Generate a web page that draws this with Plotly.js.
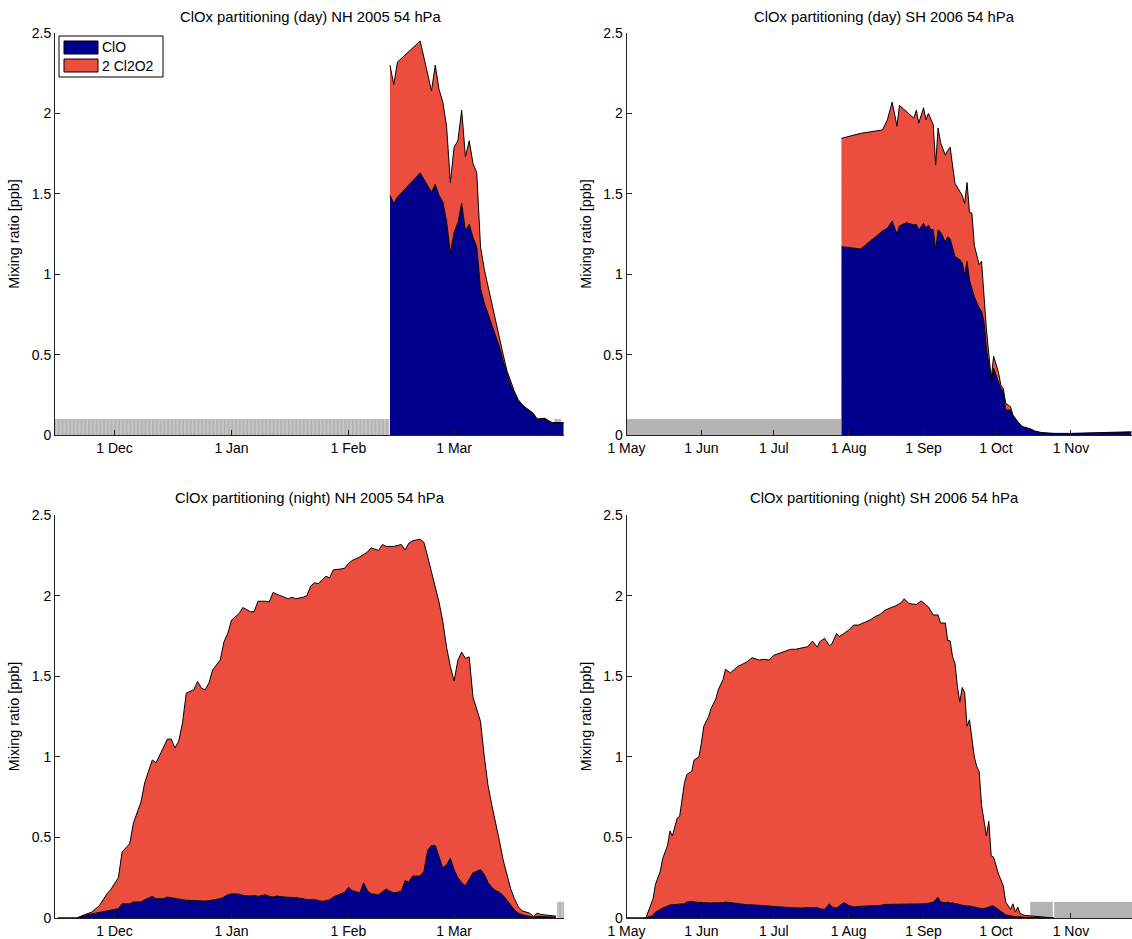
<!DOCTYPE html>
<html>
<head>
<meta charset="utf-8">
<script src="https://cdn.plot.ly/plotly-3.0.1.min.js"></script>
<style>
  html, body { margin: 0; padding: 0; background: #fff; }
  #chart { width: 1132px; height: 939px; }
</style>
</head>
<body>
<div id="chart"></div>
<script>
'use strict';

// --- NH 2005, day ---
var nhDayDates = ['2005-02-12','2005-02-13','2005-02-14','2005-02-20','2005-02-23','2005-02-24','2005-02-25','2005-02-26','2005-02-27',
    '2005-02-28','2005-03-01','2005-03-02','2005-03-03','2005-03-04','2005-03-05','2005-03-06','2005-03-07','2005-03-08','2005-03-09',
    '2005-03-10','2005-03-11','2005-03-12','2005-03-13','2005-03-14','2005-03-15','2005-03-16','2005-03-17','2005-03-18','2005-03-19',
    '2005-03-20','2005-03-21','2005-03-22','2005-03-23','2005-03-24','2005-03-25','2005-03-26','2005-03-27','2005-03-28','2005-03-30'];
var nhDayClO = [1.49,1.44,1.48,1.63,1.51,1.56,1.49,1.45,1.33,
    1.13,1.26,1.32,1.44,1.27,1.31,1.23,1.17,0.91,0.82,
    0.75,0.69,0.62,0.55,0.46,0.38,0.31,0.26,0.21,0.185,
    0.165,0.145,0.13,0.097,0.097,0.10,0.087,0.075,0.075,0.075];
var nhDayClOx = [2.30,2.18,2.32,2.45,2.14,2.30,2.15,2.07,1.92,
    1.57,1.79,1.83,2.02,1.73,1.83,1.69,1.63,1.17,1.03,
    0.92,0.82,0.72,0.61,0.50,0.40,0.33,0.27,0.22,0.19,
    0.17,0.15,0.135,0.10,0.10,0.104,0.09,0.077,0.077,0.077];
var nhDayMissing = [['2004-11-15','2005-02-11 20:00'], ['2005-03-27 12:00','2005-03-29 08:00']];

// --- SH 2006, day ---
var shDayDates = ['2006-07-29','2006-08-06','2006-08-15','2006-08-17','2006-08-19','2006-08-21','2006-08-22','2006-08-25','2006-08-28','2006-08-29','2006-08-30',
    '2006-09-01','2006-09-02','2006-09-03','2006-09-04','2006-09-05','2006-09-06','2006-09-07','2006-09-08','2006-09-10','2006-09-11','2006-09-12',
    '2006-09-14','2006-09-16','2006-09-17','2006-09-18','2006-09-19','2006-09-20','2006-09-21','2006-09-22','2006-09-24','2006-09-25','2006-09-26',
    '2006-09-27','2006-09-29','2006-09-30','2006-10-02','2006-10-03','2006-10-04','2006-10-05','2006-10-07','2006-10-08','2006-10-10','2006-10-12',
    '2006-10-15','2006-10-17','2006-10-20','2006-10-25','2006-11-01','2006-11-10','2006-11-20','2006-11-26'];
var shDayClO = [1.171,1.157,1.269,1.285,1.33,1.25,1.30,1.32,1.306,1.31,1.275,
    1.316,1.285,1.306,1.275,1.28,1.15,1.275,1.264,1.20,1.233,1.22,
    1.11,1.09,1.07,0.995,1.08,0.964,0.91,0.86,0.79,0.77,0.705,
    0.54,0.34,0.415,0.33,0.29,0.27,0.155,0.155,0.12,0.08,0.05,
    0.037,0.022,0.012,0.008,0.008,0.01,0.013,0.016];
var shDayClOx = [1.845,1.876,1.897,1.96,2.07,1.92,2.05,2.01,1.97,2.02,1.94,
    2.035,1.96,2.00,1.97,1.93,1.68,1.91,1.82,1.74,1.77,1.79,
    1.565,1.52,1.49,1.44,1.57,1.385,1.38,1.18,1.06,1.08,0.87,
    0.66,0.35,0.49,0.39,0.31,0.29,0.197,0.176,0.124,0.083,0.052,
    0.04,0.025,0.015,0.01,0.01,0.012,0.016,0.02];
var shDayMissing = [['2006-05-01','2006-07-28 21:00']];

// --- NH 2005, night ---
var nhNightDates = ['2004-11-16','2004-11-21','2004-11-23','2004-11-25','2004-11-27','2004-11-29','2004-11-30',
    '2004-12-02','2004-12-03','2004-12-05','2004-12-06','2004-12-08','2004-12-09','2004-12-11','2004-12-12','2004-12-14','2004-12-15',
    '2004-12-16','2004-12-17','2004-12-18','2004-12-19','2004-12-20','2004-12-22','2004-12-23','2004-12-24','2004-12-25','2004-12-26',
    '2004-12-27','2004-12-29','2004-12-30','2004-12-31',
    '2005-01-01','2005-01-03','2005-01-04','2005-01-06','2005-01-07','2005-01-08','2005-01-10','2005-01-11','2005-01-12','2005-01-13',
    '2005-01-15','2005-01-16','2005-01-17','2005-01-18','2005-01-20','2005-01-21','2005-01-22','2005-01-23','2005-01-24','2005-01-25',
    '2005-01-26','2005-01-27','2005-01-28','2005-01-30','2005-01-31',
    '2005-02-01','2005-02-02','2005-02-04','2005-02-05','2005-02-06','2005-02-07','2005-02-09','2005-02-10','2005-02-11','2005-02-12',
    '2005-02-13','2005-02-15','2005-02-16','2005-02-17','2005-02-18','2005-02-20','2005-02-21','2005-02-22','2005-02-23','2005-02-24',
    '2005-02-25','2005-02-26','2005-02-27','2005-02-28',
    '2005-03-01','2005-03-02','2005-03-03','2005-03-04','2005-03-05','2005-03-06','2005-03-07','2005-03-08','2005-03-09','2005-03-10',
    '2005-03-11','2005-03-12','2005-03-13','2005-03-14','2005-03-15','2005-03-16','2005-03-17','2005-03-18','2005-03-19','2005-03-20',
    '2005-03-21','2005-03-22','2005-03-23','2005-03-24','2005-03-25','2005-03-26','2005-03-27','2005-03-28'];
var nhNightClO = [0,0,0.016,0.025,0.037,0.047,0.05,
    0.058,0.088,0.088,0.099,0.099,0.113,0.134,0.12,0.12,0.13,
    0.125,0.12,0.115,0.113,0.11,0.107,0.107,0.105,0.105,0.107,
    0.111,0.12,0.13,0.144,
    0.15,0.148,0.14,0.136,0.14,0.134,0.144,0.134,0.13,0.136,
    0.13,0.13,0.13,0.126,0.12,0.113,0.115,0.115,0.109,0.103,
    0.107,0.113,0.13,0.15,0.16,
    0.19,0.17,0.156,0.218,0.17,0.15,0.144,0.165,0.18,0.165,
    0.156,0.165,0.232,0.222,0.26,0.26,0.29,0.42,0.45,0.45,
    0.38,0.31,0.33,0.37,
    0.30,0.25,0.22,0.20,0.24,0.28,0.29,0.30,0.27,0.22,
    0.19,0.17,0.16,0.14,0.11,0.08,0.05,0.03,0.02,0.015,
    0.012,0.005,0.01,0.01,0.008,0.007,0.006,0.005];
var nhNightClOx = [0,0,0.02,0.037,0.078,0.15,0.177,
    0.25,0.41,0.46,0.59,0.72,0.84,0.98,0.963,1.066,1.11,
    1.11,1.055,1.097,1.21,1.395,1.416,1.467,1.426,1.416,1.457,
    1.539,1.60,1.714,1.765,
    1.848,1.889,1.926,1.90,1.90,1.965,1.965,1.96,2.02,2.008,
    1.99,1.98,1.99,1.98,1.99,2.00,2.06,2.08,2.074,2.095,
    2.12,2.11,2.16,2.165,2.17,
    2.20,2.218,2.24,2.255,2.27,2.296,2.28,2.317,2.305,2.305,
    2.305,2.317,2.284,2.325,2.34,2.35,2.33,2.24,2.15,2.06,
    1.96,1.84,1.68,1.56,
    1.47,1.60,1.65,1.61,1.62,1.37,1.30,1.22,1.00,0.82,
    0.70,0.60,0.48,0.36,0.26,0.18,0.12,0.07,0.045,0.035,
    0.03,0.01,0.03,0.022,0.018,0.015,0.014,0.012];
var nhNightMissing = [['2005-03-28 06:00','2005-03-31']];

// --- SH 2006, night ---
var shNightDates = ['2006-05-01','2006-05-09','2006-05-12','2006-05-13','2006-05-15','2006-05-16','2006-05-18','2006-05-19','2006-05-20','2006-05-22',
    '2006-05-23','2006-05-24','2006-05-25','2006-05-26','2006-05-28','2006-05-29','2006-05-31',
    '2006-06-01','2006-06-02','2006-06-04','2006-06-05','2006-06-07','2006-06-08','2006-06-10','2006-06-11','2006-06-13','2006-06-16',
    '2006-06-18','2006-06-20','2006-06-22','2006-06-25','2006-06-27','2006-06-29',
    '2006-07-01','2006-07-04','2006-07-06','2006-07-08','2006-07-10','2006-07-12','2006-07-15','2006-07-17','2006-07-19','2006-07-20',
    '2006-07-22','2006-07-24','2006-07-25','2006-07-27','2006-07-28','2006-07-30',
    '2006-08-01','2006-08-03','2006-08-05','2006-08-08','2006-08-10','2006-08-12','2006-08-14','2006-08-16','2006-08-19','2006-08-21',
    '2006-08-23','2006-08-24','2006-08-26','2006-08-29','2006-08-31',
    '2006-09-02','2006-09-03','2006-09-05','2006-09-07','2006-09-08','2006-09-10','2006-09-11','2006-09-12','2006-09-13','2006-09-14',
    '2006-09-15','2006-09-16','2006-09-17','2006-09-18','2006-09-19','2006-09-20','2006-09-22','2006-09-23','2006-09-24','2006-09-25',
    '2006-09-27','2006-09-28','2006-09-29','2006-09-30',
    '2006-10-02','2006-10-04','2006-10-05','2006-10-06','2006-10-07','2006-10-08','2006-10-09','2006-10-10','2006-10-11','2006-10-13',
    '2006-10-16','2006-10-18','2006-10-21','2006-10-25'];
var shNightClO = [0,0,0.016,0.037,0.053,0.062,0.074,0.082,0.082,0.082,
    0.086,0.088,0.088,0.099,0.103,0.099,0.095,
    0.093,0.095,0.093,0.093,0.091,0.095,0.095,0.099,0.095,0.086,
    0.086,0.082,0.082,0.078,0.074,0.072,
    0.07,0.068,0.066,0.064,0.062,0.062,0.064,0.062,0.064,0.058,
    0.053,0.088,0.068,0.062,0.074,0.095,
    0.078,0.068,0.072,0.074,0.074,0.078,0.078,0.084,0.084,0.088,
    0.088,0.086,0.086,0.086,0.088,
    0.088,0.091,0.099,0.128,0.099,0.095,0.099,0.093,0.095,0.088,
    0.088,0.082,0.078,0.076,0.074,0.074,0.068,0.066,0.062,0.058,
    0.062,0.068,0.074,0.074,
    0.053,0.033,0.02,0.016,0.012,0.01,0.008,0.008,0.006,0.004,
    0.003,0.002,0.001,0];
var shNightClOx = [0,0,0.12,0.21,0.29,0.37,0.45,0.54,0.51,0.62,
    0.63,0.74,0.84,0.89,0.91,0.98,1.00,
    1.086,1.19,1.25,1.30,1.36,1.416,1.48,1.543,1.52,1.56,
    1.574,1.59,1.615,1.60,1.605,1.60,
    1.63,1.646,1.66,1.667,1.667,1.673,1.683,1.718,1.68,1.714,
    1.735,1.69,1.70,1.765,1.745,1.765,
    1.786,1.817,1.817,1.837,1.85,1.87,1.883,1.91,1.93,1.94,
    1.96,1.98,1.95,1.945,1.967,
    1.94,1.93,1.88,1.88,1.83,1.83,1.72,1.72,1.62,1.58,
    1.436,1.34,1.43,1.40,1.19,1.23,1.00,0.94,0.91,0.70,
    0.51,0.60,0.387,0.377,
    0.274,0.20,0.099,0.078,0.053,0.088,0.037,0.068,0.027,0.016,
    0.012,0.008,0.004,0];
var shNightMissing = [['2006-10-15 03:00','2006-10-24 12:00'], ['2006-10-25 02:00','2006-12-01']];

// height of the grey "no data" bars
var missingLevel = 0.1;

var nhTicks = ['2004-12-01','2005-01-01','2005-02-01','2005-03-01'];
var nhTickText = ['1 Dec','1 Jan','1 Feb','1 Mar'];
var shTicks = ['2006-05-01','2006-06-01','2006-07-01','2006-08-01','2006-09-01','2006-10-01','2006-11-01'];
var shTickText = ['1 May','1 Jun','1 Jul','1 Aug','1 Sep','1 Oct','1 Nov'];
var yTicks = [0, 0.5, 1, 1.5, 2, 2.5];
var yTickText = ['0','0.5','1','1.5','2','2.5'];

var titles = ['ClOx partitioning (day) NH 2005 54 hPa', 'ClOx partitioning (day) SH 2006 54 hPa',
    'ClOx partitioning (night) NH 2005 54 hPa', 'ClOx partitioning (night) SH 2006 54 hPa'];
var seriesNames = ['ClO', '2 Cl2O2'];

var BLUE = '#00008c';
var RED = '#eb4e3e';
var GREY = '#b3b3b3';
var FONT = 'Liberation Sans, Arial, Helvetica, sans-serif';

var panel = ( n, dates, clo, clox, missing, striped ) => {
    var xa = n === 1 ? 'x' : 'x' + n;
    var ya = n === 1 ? 'y' : 'y' + n;
    var traces = [];

    missing.forEach( ( span ) => {
        var gap = {
            x: span, y: [missingLevel, missingLevel],
            xaxis: xa, yaxis: ya,
            mode: 'lines', line: { width: 0 },
            fill: 'tozeroy', fillcolor: GREY,
            hoverinfo: 'skip'
        };
        if ( striped ) {
            gap.fillpattern = { shape: '|', size: 3.77, solidity: 0.22, bgcolor: GREY, fgcolor: '#dedede' };
        }
        traces.push( gap );
    } );

    // ClO from zero, then 2 Cl2O2 filled up to the ClOx total
    traces.push( {
        name: seriesNames[0], x: dates, y: clo, xaxis: xa, yaxis: ya,
        mode: 'lines', line: { color: '#000', width: 1 },
        fill: 'tozeroy', fillcolor: BLUE, hoverinfo: 'skip'
    } );
    traces.push( {
        name: seriesNames[1], x: dates, y: clox, xaxis: xa, yaxis: ya,
        mode: 'lines', line: { color: '#000', width: 1 },
        fill: 'tonexty', fillcolor: RED, hoverinfo: 'skip'
    } );
    return traces;
};

var data = [].concat(
    panel( 1, nhDayDates, nhDayClO, nhDayClOx, nhDayMissing, true ),
    panel( 2, shDayDates, shDayClO, shDayClOx, shDayMissing, false ),
    panel( 3, nhNightDates, nhNightClO, nhNightClOx, nhNightMissing, true ),
    panel( 4, shNightDates, shNightClO, shNightClOx, shNightMissing, false )
);

var W = 1132, H = 939;
var px = ( x ) => x / W;
var py = ( y ) => 1 - y / H;
var leftDom = [px( 55 ), px( 564 )];
var rightDom = [px( 626.5 ), 1];
var topDom = [py( 435 ), py( 33 )];
var botDom = [py( 918 ), py( 515 )];
var nhRange = ['2004-11-15 05:00', '2005-03-30 03:00'];
var shRange = ['2006-05-01', '2006-11-26 07:00'];

var xAxis = ( dom, range, ticks, text, anchor ) => ( {
    type: 'date', domain: dom, range: range, anchor: anchor,
    tickvals: ticks, ticktext: text,
    ticks: 'inside', ticklen: 5, tickcolor: '#222', tickwidth: 1,
    showline: true, linecolor: '#222', linewidth: 1,
    showgrid: false, zeroline: false, fixedrange: true,
    tickfont: { family: FONT, size: 14, color: '#000' }
} );
var yAxis = ( dom, anchor ) => ( {
    domain: dom, range: [0, 2.5], anchor: anchor,
    tickvals: yTicks, ticktext: yTickText,
    ticks: 'inside', ticklen: 5, tickcolor: '#222', tickwidth: 1,
    showline: true, linecolor: '#222', linewidth: 1,
    showgrid: false, zeroline: false, fixedrange: true,
    tickfont: { family: FONT, size: 14, color: '#000' },
    title: { text: 'Mixing ratio [ppb]', standoff: 8, font: { family: FONT, size: 14.4, color: '#000' } }
} );

var textAt = ( text, x, y, size, anchor ) => ( {
    text: text, xref: 'paper', yref: 'paper', x: px( x ), y: py( y ),
    xanchor: anchor, yanchor: 'middle', showarrow: false,
    font: { family: FONT, size: size, color: '#000' }
} );
var boxAt = ( x0, y0, x1, y1, fill ) => ( {
    type: 'rect', xref: 'paper', yref: 'paper',
    x0: px( x0 ), x1: px( x1 ), y0: py( y0 ), y1: py( y1 ),
    fillcolor: fill, line: { color: '#000', width: 1 }
} );

var layout = {
    width: W, height: H,
    margin: { l: 0, r: 0, t: 0, b: 0 },
    paper_bgcolor: '#fff', plot_bgcolor: 'rgba(0,0,0,0)',
    font: { family: FONT, color: '#000' },
    showlegend: false,
    xaxis: xAxis( leftDom, nhRange, nhTicks, nhTickText, 'y' ),
    xaxis2: xAxis( rightDom, shRange, shTicks, shTickText, 'y2' ),
    xaxis3: xAxis( leftDom, nhRange, nhTicks, nhTickText, 'y3' ),
    xaxis4: xAxis( rightDom, shRange, shTicks, shTickText, 'y4' ),
    yaxis: yAxis( topDom, 'x' ),
    yaxis2: yAxis( topDom, 'x2' ),
    yaxis3: yAxis( botDom, 'x3' ),
    yaxis4: yAxis( botDom, 'x4' ),
    // legend box of the first panel, MATLAB style
    shapes: [
        boxAt( 59, 36, 163, 77, '#fff' ),
        boxAt( 64, 41, 98, 54, BLUE ),
        boxAt( 64, 59, 98, 72, RED )
    ],
    annotations: [
        textAt( titles[0], 310, 17, 14.8, 'center' ),
        textAt( titles[1], 884, 17, 14.8, 'center' ),
        textAt( titles[2], 310, 498, 14.8, 'center' ),
        textAt( titles[3], 884, 498, 14.8, 'center' ),
        textAt( seriesNames[0], 100, 47.5, 14, 'left' ),
        textAt( seriesNames[1], 100, 65.5, 14, 'left' )
    ]
};

document.addEventListener( 'DOMContentLoaded', function() {
    Plotly.newPlot( 'chart', data, layout, { displayModeBar: false, staticPlot: true } );
} );
</script>
</body>
</html>
